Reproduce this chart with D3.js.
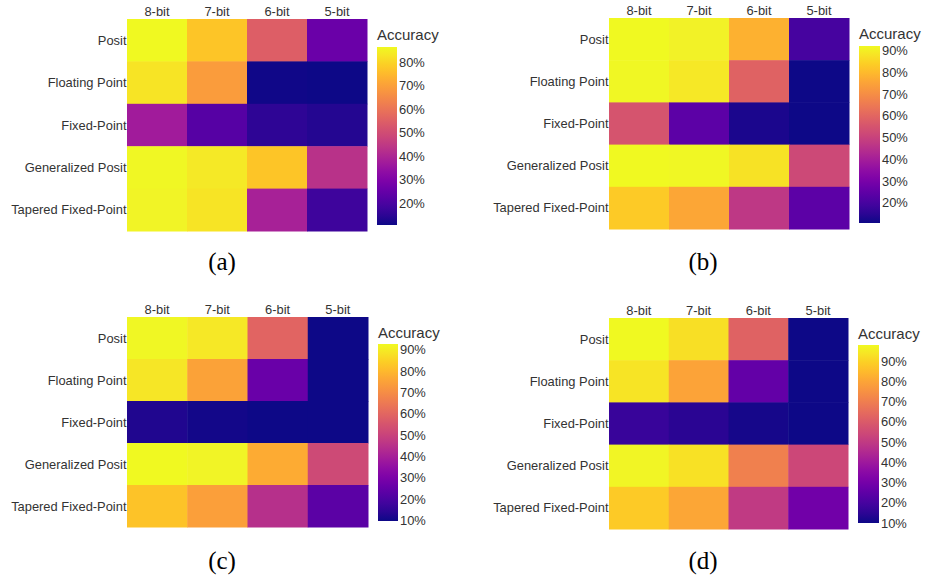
<!DOCTYPE html>
<html><head><meta charset="utf-8">
<script src="https://cdn.jsdelivr.net/npm/d3@7"></script>
<style>
body{margin:0;background:#fff;}
text{font-family:"Liberation Sans",Arial,sans-serif;fill:#333;}
</style></head>
<body><svg id="chart" width="926" height="578"></svg>
<script>
const rows = ["Posit","Floating Point","Fixed-Point","Generalized Posit","Tapered Fixed-Point"];
const cols = ["8-bit","7-bit","6-bit","5-bit"];

const valuesA = [
  [86.4, 77.0, 54.5, 25.8],
  [82.6, 69.0, 11.0, 10.6],
  [37.0, 22.0, 15.0, 13.5],
  [86.0, 83.5, 77.0, 43.0],
  [85.5, 82.6, 38.6, 17.5]
];
const valuesB = [
  [92.2, 90.8, 78.0, 19.7],
  [91.8, 89.0, 59.0, 10.7],
  [55.0, 24.0, 12.4, 10.6],
  [92.0, 91.8, 88.0, 52.0],
  [83.0, 75.7, 47.0, 24.0]
];
const valuesC = [
  [92.0, 89.3, 59.4, 9.7],
  [89.0, 75.0, 26.0, 9.8],
  [12.0, 10.5, 10.0, 9.7],
  [92.6, 91.4, 77.0, 52.0],
  [82.0, 74.4, 44.5, 23.0]
];
const valuesD = [
  [97.9, 92.5, 62.0, 10.0],
  [93.5, 79.4, 25.8, 10.0],
  [17.0, 14.4, 11.3, 10.0],
  [97.0, 93.0, 70.6, 54.0],
  [88.0, 80.3, 50.0, 29.0]
];
const ticksA = [20,30,40,50,60,70,80];
const ticksB = [20,30,40,50,60,70,80,90];
const ticksC = [10,20,30,40,50,60,70,80,90];
const ticksD = [10,20,30,40,50,60,70,80,90];
const captions = ["(a)","(b)","(c)","(d)"];
const legendTitle = "Accuracy";

const layouts = [
  {hx:[127,367], hy:[19,231], cbx:[377,397], cby:[47,225], tY:40, cap:[222,270]},
  {hx:[609,849], hy:[18,229], cbx:[859,880], cby:[46,223], tY:39, cap:[703,270]},
  {hx:[127,368], hy:[317,527], cbx:[378,398], cby:[344,521], tY:338, cap:[222,569]},
  {hx:[609,848], hy:[318,529], cbx:[858,879], cby:[345,523], tY:339, cap:[703,569]}
];
const panels = [valuesA, valuesB, valuesC, valuesD];
const tickSets = [ticksA, ticksB, ticksC, ticksD];

const svg = d3.select("#chart");
const defs = svg.append("defs");

panels.forEach((vals, pi) => {
  const L = layouts[pi];
  const g = svg.append("g");
  const flat = vals.flat();
  const vmin = d3.min(flat), vmax = d3.max(flat);
  const color = d3.scaleSequential(d3.interpolatePlasma).domain([vmin, vmax]);
  const x = d3.scaleBand().domain(cols).range(L.hx);
  const y = d3.scaleBand().domain(rows).range(L.hy);

  const cells = [];
  vals.forEach((r, ri) => r.forEach((v, ci) => cells.push({r: rows[ri], c: cols[ci], v})));
  g.selectAll("rect.cell").data(cells).join("rect")
    .attr("class","cell")
    .attr("x", d => x(d.c)).attr("y", d => y(d.r))
    .attr("width", x.bandwidth() + 0.5).attr("height", y.bandwidth() + 0.5)
    .attr("fill", d => color(d.v));

  g.selectAll("text.col").data(cols).join("text")
    .attr("class","col")
    .attr("x", d => x(d) + x.bandwidth()/2)
    .attr("y", L.hy[0] - 3.5)
    .attr("text-anchor","middle")
    .style("font-size","12.9px")
    .text(d => d);
  g.selectAll("text.row").data(rows).join("text")
    .attr("class","row")
    .attr("x", L.hx[0] - 0.5)
    .attr("y", d => y(d) + y.bandwidth()/2)
    .attr("dy","0.35em")
    .attr("text-anchor","end")
    .style("font-size","12.9px")
    .text(d => d);

  const gid = "grad" + pi;
  const grad = defs.append("linearGradient").attr("id", gid)
    .attr("x1","0").attr("y1","1").attr("x2","0").attr("y2","0");
  d3.range(0, 1.0001, 0.05).forEach(t => {
    grad.append("stop").attr("offset", t).attr("stop-color", d3.interpolatePlasma(t));
  });
  g.append("rect")
    .attr("x", L.cbx[0]).attr("y", L.cby[0])
    .attr("width", L.cbx[1]-L.cbx[0]).attr("height", L.cby[1]-L.cby[0])
    .attr("fill", `url(#${gid})`);
  const cs = d3.scaleLinear().domain([vmin, vmax]).range([L.cby[1], L.cby[0]]);
  const axis = d3.axisRight(cs).tickValues(tickSets[pi]).tickSize(0).tickPadding(2)
    .tickFormat(d => d + "%");
  const ag = g.append("g").attr("transform", `translate(${L.cbx[1]},0)`).call(axis);
  ag.select(".domain").remove();
  ag.selectAll("text").style("font-size","12.9px").attr("fill","#333")
    .style("font-family",'"Liberation Sans",Arial,sans-serif');

  g.append("text")
    .attr("x", L.cbx[0]).attr("y", L.tY)
    .style("font-size","15px")
    .text(legendTitle);

  g.append("text")
    .attr("x", L.cap[0]).attr("y", L.cap[1])
    .attr("text-anchor","middle")
    .style("font-family",'"Liberation Serif","Times New Roman",serif')
    .style("font-size","25px")
    .style("fill","#000")
    .text(captions[pi]);
});
</script></body></html>
